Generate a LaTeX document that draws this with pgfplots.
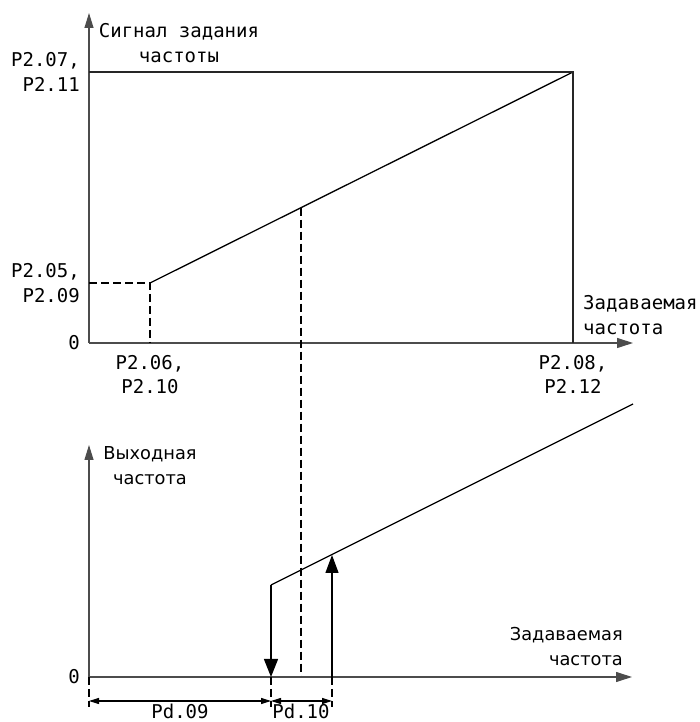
\documentclass[border=0pt]{standalone}
\usepackage{fontspec}
\setmonofont{DejaVu Sans Mono}
\setsansfont{DejaVu Sans}
\usepackage{pgfplots}
\pgfplotsset{compat=1.18}
\usetikzlibrary{arrows.meta}
\newcommand\mono{\ttfamily\fontsize{19}{24.5}\selectfont}
\newcommand\sans{\sffamily\fontsize{17.8}{25}\selectfont}
\begin{document}
\begin{tikzpicture}
\path[use as bounding box] (0,0) rectangle (700pt,722pt);
\pgfplotsset{
  diag/.style={
    x=1pt, y=1pt, enlargelimits=false, clip=false,
    axis lines=left,
    axis line style={black!70, line width=1.1pt},
    x axis line style={-{Triangle[length=16pt,width=10pt]}},
    y axis line style={-{Triangle[length=15pt,width=9pt]}},
    major tick length=0pt,
    tick style={draw=none},
    ticklabel style={font=\mono, inner sep=0pt},
    yticklabel style={align=right, xshift=-9pt},
    xticklabel style={align=center, yshift=-12pt},
  },
  dsh/.style={black, line width=1.3pt, dash pattern=on 8pt off 4pt},
  sol/.style={black, line width=1.3pt},
}
% top diagram
\begin{axis}[diag, at={(89pt,379pt)}, anchor=south west,
  xmin=0, xmax=544, ymin=0, ymax=330,
  xtick={61,484}, xticklabels={{P2.06,\\P2.10},{P2.08,\\P2.12}},
  ytick={0,60,271}, yticklabels={0,{P2.05,\\P2.09},{P2.07,\\P2.11}}]
\addplot[sol] coordinates {(61,60) (484,271)};
\addplot[black!85, line width=1.1pt] coordinates {(0,271) (484,271) (484,0)};
\addplot[dsh] coordinates {(0,60) (61,60) (61,0)};
\addplot[dsh] coordinates {(212,135.3) (212,-334)};
\node[font=\mono, align=center, inner sep=0pt] at (axis cs:90,300) {Сигнал задания\\частоты};
\node[font=\mono, align=left, anchor=west, inner sep=0pt] at (axis cs:494,28) {Задаваемая\\частота};
\end{axis}
% bottom diagram
\begin{axis}[diag, at={(89pt,45pt)}, anchor=south west,
  xmin=0, xmax=543, ymin=0, ymax=232,
  xtick=\empty, ytick={0}, yticklabels={0}]
\addplot[sol] coordinates {(182,92) (544,273)};
\addplot[sol, -{Triangle[length=18pt,width=14pt]}] coordinates {(182,92) (182,0)};
\addplot[sol, -{Triangle[length=18pt,width=13pt]}] coordinates {(243,0) (243,122)};
\addplot[dsh] coordinates {(0,0) (0,-30)};
\addplot[dsh] coordinates {(182,0) (182,-30)};
\addplot[dsh] coordinates {(243,0) (243,-30)};
\addplot[black, line width=1.1pt, {Triangle[length=10pt,width=6pt]}-{Triangle[length=10pt,width=6pt]}] coordinates {(0,-24) (182,-24)};
\addplot[black, line width=1.1pt, {Triangle[length=10pt,width=6pt]}-{Triangle[length=10pt,width=6pt]}] coordinates {(182,-24) (243,-24)};
\node[font=\sans, align=center, inner sep=0pt] at (axis cs:61,211.5) {Выходная\\частота};
\node[font=\sans, align=right, anchor=east, inner sep=0pt] at (axis cs:534,30.5) {Задаваемая\\частота};
\node[font=\mono, anchor=base, inner sep=0pt] at (axis cs:91,-41) {Pd.09};
\node[font=\mono, anchor=base, inner sep=0pt] at (axis cs:212,-41) {Pd.10};
\end{axis}
\end{tikzpicture}
\end{document}
